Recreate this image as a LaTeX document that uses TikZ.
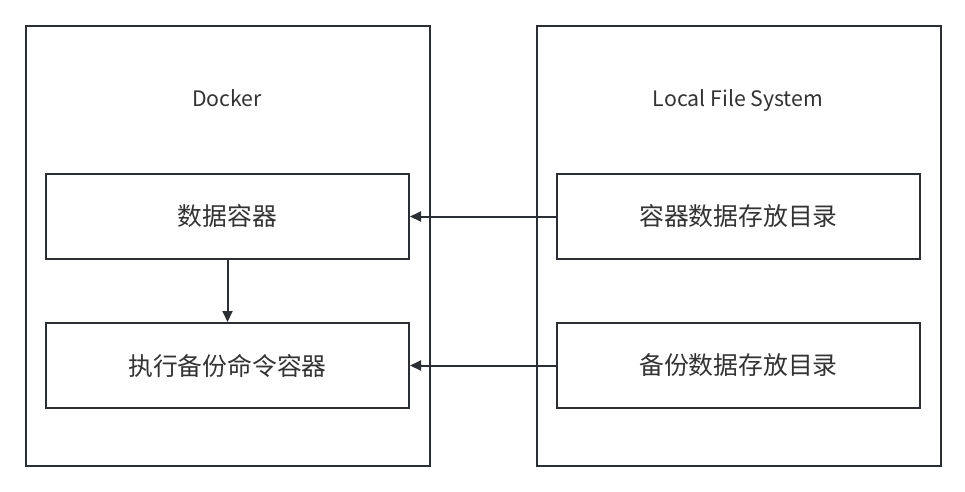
\documentclass[tikz,border=0pt]{standalone}
\usepackage{fontspec}
\setmainfont{Noto Sans CJK SC}
\usetikzlibrary{arrows.meta}
\definecolor{linec}{HTML}{2B2E33}
\definecolor{textc}{HTML}{333333}
\tikzset{
  x=1pt,y=-1pt,
  outer/.style={draw=linec,line width=2pt,minimum width=404pt,minimum height=440pt,anchor=north west,inner sep=0pt},
  inner/.style={draw=linec,line width=2pt,minimum width=363pt,minimum height=85pt,anchor=north west,inner sep=0pt,text=textc,font=\fontsize{24.8}{28}\selectfont},
  title/.style={text=textc,font=\fontsize{21.3}{24}\selectfont,inner sep=0pt,anchor=base},
  conn/.style={draw=linec,line width=2pt,-{Triangle[length=11pt,width=10pt]}}
}
\begin{document}
\begin{tikzpicture}
\useasboundingbox[fill=white] (0,0) rectangle (965,491);
\node[outer] (docker) at (25,25) {};
\node[outer] (lfs) at (536,25) {};
\node[title] (dt) at (227,106) {Docker};
\node[title] (lt) at (738,106) {Local File System};
\node[inner] (dc) at (45,173) {数据容器};
\node[inner] (bc) at (45,322) {执行备份命令容器};
\node[inner] (dd) at (556,173) {容器数据存放目录};
\node[inner] (bd) at (556,322) {备份数据存放目录};
\draw[conn] (dd.west) -- (dc.east);
\draw[conn] (bd.west) -- (bc.east);
\draw[conn] (dc.south) -- (bc.north);
\end{tikzpicture}
\end{document}
